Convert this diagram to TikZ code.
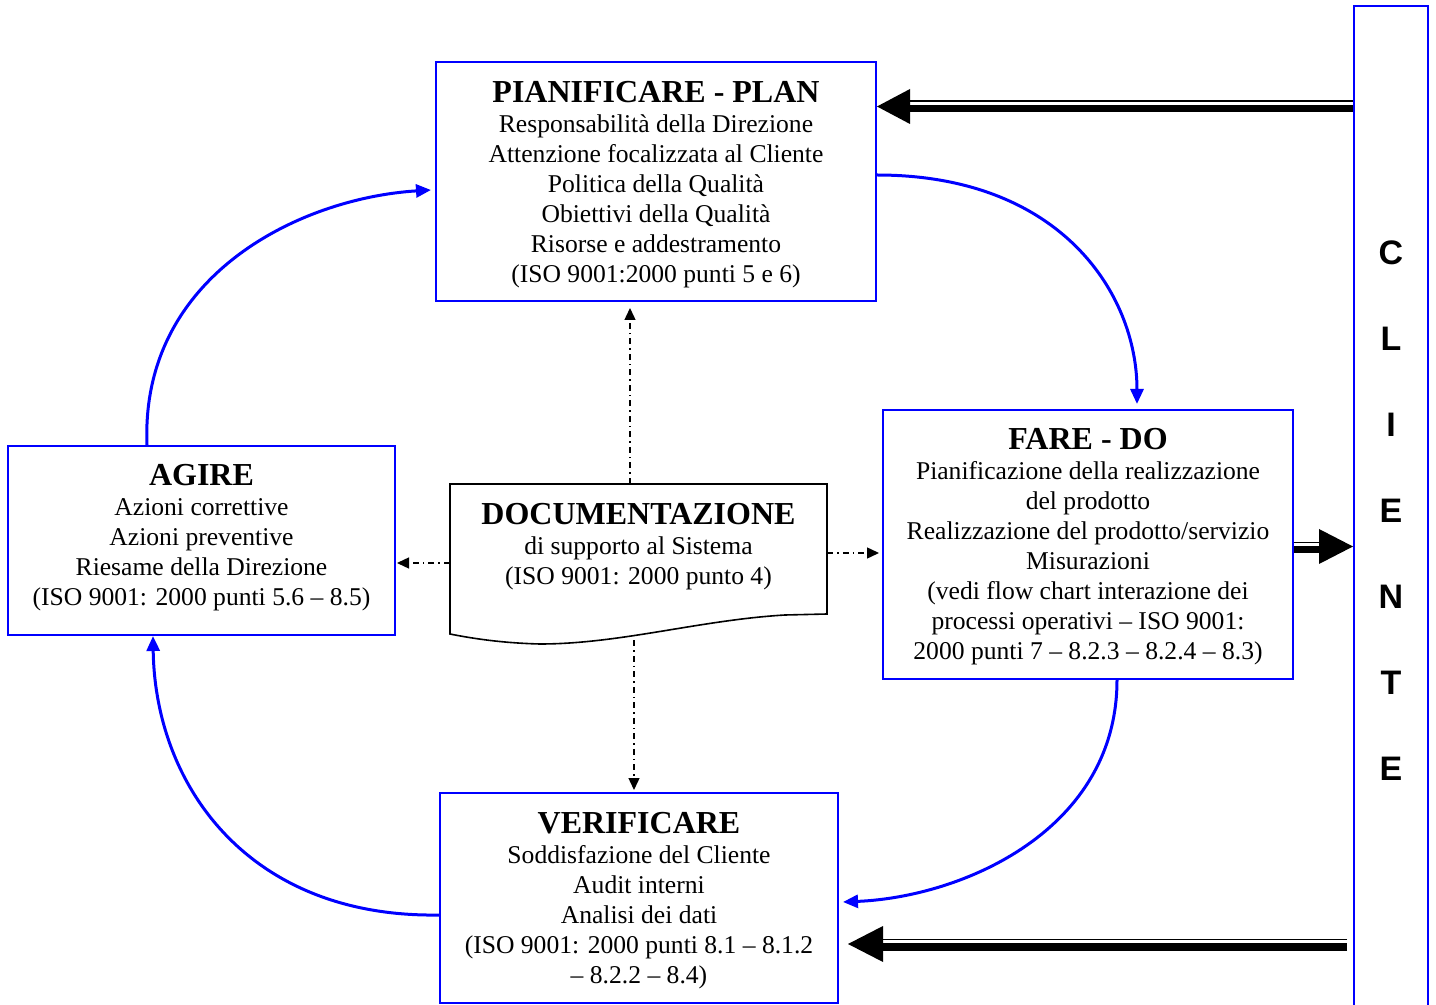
\documentclass[tikz,border=0pt]{standalone}
\usepackage{fontspec}
\setmainfont{Liberation Serif}
\newfontfamily\clifont{Liberation Sans}
\usetikzlibrary{arrows.meta,calc}
\newcommand\bodyfnt{\fontsize{12.8}{15}\selectfont}
\newcommand\myttl[1]{{\fontsize{16}{17}\selectfont\bfseries #1}}
\begin{document}
\begin{tikzpicture}[x=0.5pt,y=-0.5pt,
  box/.style={draw=blue, line width=1pt, align=center, inner sep=0pt, font=\bodyfnt},
  barrow/.style={draw=blue, line width=1.5pt, -{Triangle[length=7.5pt,width=6.5pt]}},
  dd/.style={line width=0.7pt, dash pattern=on 3pt off 2pt on 0.75pt off 2pt, -{Triangle[length=6pt,width=5.5pt]}},
  thickln/.style={line width=3.9pt},
  thinln/.style={line width=0.9pt}]
\useasboundingbox (0,0) rectangle (1436,1005);

% boxes
\node[box, minimum width=220pt, minimum height=119.5pt] (plan) at (656,181.5)
  {\rule{0pt}{13.6pt}\myttl{PIANIFICARE - PLAN}\\[0pt] Responsabilità della Direzione\\ Attenzione focalizzata al Cliente\\ Politica della Qualità\\ Obiettivi della Qualità\\ Risorse e addestramento\\ (ISO 9001:2000 punti 5 e 6)};
\node[box, minimum width=205pt, minimum height=134.5pt] (fare) at (1088,544.5)
  {\rule{0pt}{13.1pt}\myttl{FARE - DO}\\[0pt] Pianificazione della realizzazione\\ del prodotto\\ Realizzazione del prodotto/servizio\\ Misurazioni\\ (vedi flow chart interazione dei\\ processi operativi – ISO 9001:\\ 2000 punti 7 – 8.2.3 – 8.2.4 – 8.3)};
\node[box, minimum width=193.5pt, minimum height=94.5pt] (agire) at (201.5,540.5)
  {\myttl{AGIRE}\\[0pt] Azioni correttive\\ Azioni preventive\\ Riesame della Direzione\\ (ISO 9001: 2000 punti 5.6 – 8.5)\rule[-5.8pt]{0pt}{0pt}};
\node[box, minimum width=199pt, minimum height=105pt] (verif) at (639,898)
  {\rule{0pt}{13.6pt}\myttl{VERIFICARE}\\[0pt] Soddisfazione del Cliente\\ Audit interni\\ Analisi dei dati\\ (ISO 9001: 2000 punti 8.1 – 8.1.2\\ – 8.2.2 – 8.4)};
\node[draw=blue, line width=1pt, minimum width=37pt, minimum height=505pt, inner sep=0pt, align=center,
  font=\clifont\bfseries\fontsize{17}{43}\selectfont] (cliente) at (1391,511)
  {C\\L\\I\\E\\N\\T\\E};

% documentation shape
\node[minimum width=188.5pt, minimum height=65pt, inner sep=0pt] (doc) at (638.5,549) {};
\draw[line width=0.8pt] (450,484) -- (827,484) -- (827,614) -- (785,615)
  .. controls (700,620) and (620,644) .. (540,644)
  .. controls (500,643) and (470,638) .. (450,634) -- cycle;
\node[align=center, inner sep=0pt, font=\bodyfnt] (doctxt) at (638.5,546.5)
  {\myttl{DOCUMENTAZIONE}\\[0pt] di supporto al Sistema\\ (ISO 9001: 2000 punto 4)};

% blue cycle arrows
\draw[barrow] ([yshift=3.25pt]plan.east) .. controls +(184,0) and +(0,-110) .. ([xshift=24.5pt,yshift=2.5pt]fare.north);
\draw[barrow] ([xshift=14.5pt]fare.south) .. controls +(0,150) and +(120,-5) .. ([xshift=2pt,yshift=-2pt]verif.east);
\draw[barrow] ([yshift=-8.5pt]verif.west) .. controls +(-190,3) and +(2,150) .. ([xshift=-24.25pt]agire.south);
\draw[barrow] ([xshift=-27.25pt]agire.north) .. controls +(-7,-170) and +(-130,8) .. ([xshift=-2pt,yshift=-4.25pt]plan.west);

% dash-dot arrows
\draw[dd] ([xshift=-4.25pt]doc.north) -- ([xshift=-13pt,yshift=-3pt]plan.south);
\draw[dd] ([xshift=-2.25pt,yshift=-13pt]doc.south) -- ([xshift=-2.5pt,yshift=1pt]verif.north);
\draw[dd] ([yshift=-7pt]doc.west) -- ([xshift=0.5pt,yshift=-11.25pt]agire.east);
\draw[dd] ([yshift=-2pt]doc.east) -- ([xshift=-1.5pt,yshift=-4.25pt]fare.west);

% double arrows
\coordinate (t1) at (0,101);   \coordinate (k1) at (0,108.5); \coordinate (h1) at (0,106.5);
\coordinate (t2) at (0,542.5); \coordinate (k2) at (0,549.5); \coordinate (h2) at (0,546.5);
\coordinate (t3) at (0,939.5); \coordinate (k3) at (0,947);   \coordinate (h3) at (0,944);

\draw[thickln, shorten >=16pt] (cliente.west |- k1) -- (plan.east |- k1);
\draw[thinln, shorten >=16pt] (cliente.west |- t1) -- (plan.east |- t1);
\fill (plan.east |- h1) -- ++(33,-17.5) -- ++(0,35) -- cycle;

\draw[thickln, shorten >=17pt] (fare.east |- k2) -- (cliente.west |- k2);
\draw[thinln, shorten >=17pt] (fare.east |- t2) -- (cliente.west |- t2);
\fill (cliente.west |- h2) -- ++(-34,-17.5) -- ++(0,35) -- cycle;

\draw[thickln, shorten <=3pt, shorten >=20pt] (cliente.west |- k3) -- (verif.east |- k3);
\draw[thinln, shorten <=3pt, shorten >=20pt] (cliente.west |- t3) -- (verif.east |- t3);
\fill (verif.east |- h3) ++(9,0) -- ++(35,-18) -- ++(0,36) -- cycle;
\end{tikzpicture}
\end{document}
